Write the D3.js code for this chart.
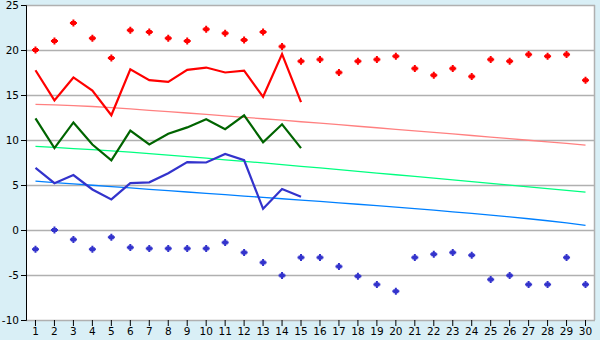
<!DOCTYPE html>
<html lang="en">
<head>
<meta charset="UTF-8">
<script src="https://d3js.org/d3.v7.min.js"></script>
<style>
    body { margin: 0; background: #d9eff6; }
    svg { display: block; }
    .tick text { font-family: "DejaVu Sans", Verdana, sans-serif; font-size: 10.5px; fill: #000; }
</style>
</head>
<body>
<div id="chart"></div>
<script>
    const days = d3.range(1, 31);

    const redPoints = [20.0, 21.0, 23.0, 21.3, 19.1, 22.2, 22.0, 21.3, 21.0, 22.3,
        21.85, 21.1, 22.0, 20.4, 18.75, 18.95, 17.5, 18.75, 18.95, 19.3,
        17.95, 17.2, 17.95, 17.05, 18.95, 18.75, 19.5, 19.3, 19.5, 16.65];
    const redLine = [17.75, 14.4, 16.95, 15.5, 12.75, 17.85, 16.65, 16.45, 17.8, 18.05,
        17.5, 17.7, 14.8, 19.55, 14.2];
    const greenLine = [12.4, 9.1, 11.95, 9.5, 7.75, 11.05, 9.5, 10.7, 11.4, 12.3,
        11.2, 12.75, 9.75, 11.75, 9.1];
    const blueLine = [6.9, 5.2, 6.1, 4.5, 3.4, 5.2, 5.3, 6.3, 7.55, 7.5,
        8.45, 7.75, 2.35, 4.55, 3.7];
    const bluePoints = [-2.15, 0.0, -1.05, -2.15, -0.8, -1.95, -2.05, -2.05, -2.05, -2.05,
        -1.4, -2.5, -3.6, -5.05, -3.05, -3.05, -4.05, -5.15, -6.05, -6.8,
        -3.05, -2.7, -2.5, -2.8, -5.5, -5.05, -6.05, -6.05, -3.05, -6.05];
    const redTrend = [13.96, 13.9, 13.82, 13.72, 13.6, 13.45, 13.3, 13.15, 13.0, 12.84,
        12.68, 12.52, 12.36, 12.2, 12.03, 11.87, 11.7, 11.53, 11.36, 11.19,
        11.02, 10.85, 10.68, 10.5, 10.33, 10.15, 9.97, 9.8, 9.62, 9.44];
    const greenTrend = [9.3, 9.18, 9.05, 8.93, 8.8, 8.65, 8.49, 8.32, 8.15, 7.98,
        7.8, 7.63, 7.45, 7.27, 7.08, 6.9, 6.71, 6.52, 6.33, 6.14,
        5.95, 5.76, 5.57, 5.38, 5.18, 4.98, 4.79, 4.6, 4.4, 4.2];
    const blueTrend = [5.42, 5.27, 5.12, 4.97, 4.82, 4.67, 4.52, 4.37, 4.22, 4.07,
        3.92, 3.77, 3.62, 3.47, 3.32, 3.17, 3.02, 2.86, 2.7, 2.54,
        2.37, 2.2, 2.02, 1.84, 1.65, 1.46, 1.25, 1.03, 0.79, 0.52];
    const yTicks = [-10, -5, 0, 5, 10, 15, 20, 25];

    const margin = {top: 5, right: 5, bottom: 20, left: 26};
    const W = 600, H = 340;
    const width = W - margin.left - margin.right;
    const height = H - margin.top - margin.bottom;

    const svg = d3.select("#chart").append("svg")
        .attr("width", W)
        .attr("height", H)
        .append("g")
        .attr("transform", `translate(${margin.left},${margin.top})`);

    const x = d3.scaleBand().domain(days).range([0, width]);
    const y = d3.scaleLinear().domain([-10, 25]).range([height, 0]);
    const cx = d => x(d) + x.bandwidth() / 2;

    svg.append("rect")
        .attr("width", width)
        .attr("height", height)
        .attr("fill", "#fff");

    // gridlines
    svg.append("g")
        .selectAll("line")
        .data(yTicks)
        .enter()
        .append("line")
        .attr("x1", 0)
        .attr("x2", width)
        .attr("y1", d => Math.round(y(d)) + 0.5)
        .attr("y2", d => Math.round(y(d)) + 0.5)
        .attr("stroke", "#b0b0b0")
        .attr("stroke-width", 1.3);

    svg.append("line")
        .attr("x1", width - 0.5).attr("x2", width - 0.5)
        .attr("y1", 0).attr("y2", height)
        .attr("stroke", "#b0b0b0")
        .attr("stroke-width", 1.5);

    // trend lines
    const trends = [
        {values: redTrend, color: "#ff8080"},
        {values: greenTrend, color: "#00ff80"},
        {values: blueTrend, color: "#0080ff"}
    ];
    trends.forEach(t => {
        svg.append("path")
            .datum(t.values)
            .attr("fill", "none")
            .attr("stroke", t.color)
            .attr("stroke-width", 1.3)
            .attr("d", d3.line().x((d, i) => cx(days[i])).y(d => y(d)));
    });

    // main lines
    const lines = [
        {values: redLine, color: "#ff0000"},
        {values: greenLine, color: "#006400"},
        {values: blueLine, color: "#3333cc"}
    ];
    lines.forEach(l => {
        svg.append("path")
            .datum(l.values)
            .attr("fill", "none")
            .attr("stroke", l.color)
            .attr("stroke-width", 2.2)
            .attr("d", d3.line().x((d, i) => cx(days[i])).y(d => y(d)));
    });

    // markers: small pixel diamond
    const markerPath = "M-1,-3.5h2v1.5h1.5v1h1v2h-1v1h-1.5v1.5h-2v-1.5h-1.5v-1h-1v-2h1v-1h1.5z";
    [{values: redPoints, color: "#ff0000"}, {values: bluePoints, color: "#3333cc"}].forEach(s => {
        svg.append("g")
            .selectAll("path")
            .data(s.values)
            .enter()
            .append("path")
            .attr("d", markerPath)
            .attr("transform", (d, i) => `translate(${cx(days[i])},${y(d)})`)
            .attr("fill", s.color);
    });

    // axes
    const yAxis = svg.append("g")
        .call(d3.axisLeft(y).tickValues(yTicks).tickFormat(d => String(d))
            .tickSize(5).tickPadding(2));
    yAxis.select(".domain").attr("stroke", "#000");

    const xAxis = svg.append("g")
        .attr("transform", `translate(0,${height})`)
        .call(d3.axisBottom(x).tickSize(6).tickPadding(2).tickSizeOuter(0));
    xAxis.select(".domain").remove();
</script>
</body>
</html>
